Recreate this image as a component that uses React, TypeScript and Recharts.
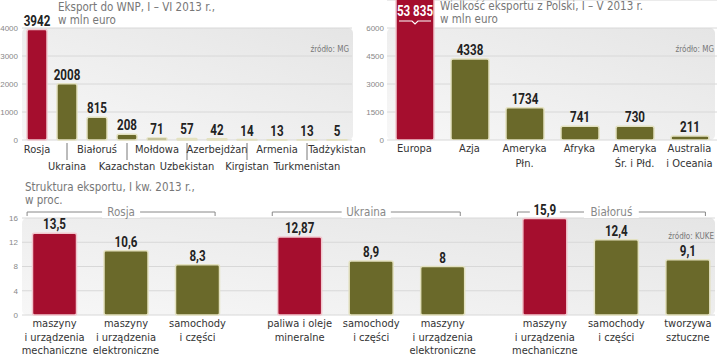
import React from "react";
import { Bar, BarChart, CartesianGrid, Cell, LabelList, XAxis, YAxis } from "recharts";

// Eksport do WNP, I-VI 2013, mln euro
const cisCountries = ["Rosja", "Ukraina", "Białoruś", "Kazachstan", "Mołdowa", "Uzbekistan", "Azerbejdżan", "Kirgistan", "Armenia", "Turkmenistan", "Tadżykistan"];
const cisExport = [3942, 2008, 815, 208, 71, 57, 42, 14, 13, 13, 5];
const cisTicks = [0, 1000, 2000, 3000, 4000];

// Wielkość eksportu z Polski, I-V 2013, mln euro
const regions = ["Europa", "Azja", "Ameryka\nPłn.", "Afryka", "Ameryka\nŚr. i Płd.", "Australia\ni Oceania"];
const regionExport = [53835, 4338, 1734, 741, 730, 211];
const regionTicks = [0, 1500, 3000, 4500, 6000];

// Struktura eksportu, I kw. 2013, proc.
const partners = ["Rosja", "Ukraina", "Białoruś"];
const firstGoods = ["maszyny\ni urządzenia\nmechaniczne", "paliwa i oleje\nmineralne", "maszyny\ni urządzenia\nmechaniczne"];
const firstShare = [13.5, 12.87, 15.9];
const secondGoods = ["maszyny\ni urządzenia\nelektroniczne", "samochody\ni części", "samochody\ni części"];
const secondShare = [10.6, 8.9, 12.4];
const thirdGoods = ["samochody\ni części", "maszyny\ni urządzenia\nelektroniczne", "tworzywa\nsztuczne"];
const thirdShare = [8.3, 8, 9.1];
const shareTicks = [0, 4, 8, 12, 16];

const cisData = cisCountries.map((name, i) => ({ name, value: cisExport[i] }));
const regionData = regions.map((name, i) => ({ name, value: regionExport[i] }));
const shareData = partners.map((group, i) => ({
  group,
  a: firstShare[i],
  aName: firstGoods[i],
  b: secondShare[i],
  bName: secondGoods[i],
  c: thirdShare[i],
  cName: thirdGoods[i],
}));

const RED = "#a50e2e";
const OLIVE = "#6a692a";
const RED_EDGE = "#f1c7ce";
const OLIVE_EDGE = "#e3e1c0";
const NARROW = "'DejaVu Sans Condensed', 'Liberation Sans Narrow', sans-serif";
const BOLD = "Roboto, 'Liberation Sans', sans-serif";
const BG = "linear-gradient(to top right, #f7f7f7, #e5e5e5)";
const GRID = "#d8d8d8";
const LABEL_SIZE = 11;

const REGION_MAX = 7500;
const SHARE_TOP = 18;

function fmt(v: number) {
  if (v >= 10000) return String(v).replace(/\B(?=(\d{3})+(?!\d))/g, " ");
  return String(v).replace(".", ",");
}

function box(p: any) {
  const vb = p.viewBox ?? p;
  return { x: Number(vb.x), y: Number(vb.y), width: Number(vb.width), height: Number(vb.height) };
}

// condensed bold number, squeezed horizontally
function Num({ x, y, children, fill = "#222" }: { x: number; y: number; children: any; fill?: string }) {
  return (
    <text transform={`translate(${x},${y}) scale(0.8,1)`} textAnchor="middle" fontFamily={BOLD} fontWeight={700} fontSize={14.5} fill={fill}>
      {children}
    </text>
  );
}

function ValueLabel(p: any) {
  const { x, y, width } = box(p);
  return (
    <Num x={x + width / 2} y={y - 4}>
      {fmt(p.value)}
    </Num>
  );
}

function RegionValueLabel(p: any) {
  const { x, y, width } = box(p);
  const cx = x + width / 2;
  if (p.value <= regionTicks[regionTicks.length - 1]) return <ValueLabel {...p} />;
  const top = Math.max(y, 0);
  return (
    <g>
      <Num x={cx} y={top + 16} fill="#fff">
        {fmt(p.value)}
      </Num>
      <polyline
        points={`${x + 3},${top + 21} ${cx - 3},${top + 21} ${cx},${top + 24} ${cx + 3},${top + 21} ${x + width - 3},${top + 21}`}
        fill="none"
        stroke="#fff"
        strokeWidth={1.2}
      />
    </g>
  );
}

function ShareValueLabel(p: any) {
  const { x, y, width } = box(p);
  const cx = x + width / 2;
  const base = y - 4;
  return (
    <g>
      {base - 11 < SHARE_TOP && <rect x={cx - 15} y={base - 12} width={30} height={14} fill="#fff" />}
      <Num x={cx} y={base}>
        {fmt(p.value)}
      </Num>
    </g>
  );
}

function GoodsLabel(p: any) {
  const { x, y, width, height } = box(p);
  const lines = String(p.value).split("\n");
  return (
    <text x={x + width / 2} y={y + height + 12} textAnchor="middle" fontFamily={NARROW} fontSize={LABEL_SIZE} fill="#333">
      {lines.map((t, i) => (
        <tspan key={i} x={x + width / 2} dy={i === 0 ? 0 : 13.5}>
          {t}
        </tspan>
      ))}
    </text>
  );
}

function CisTick(p: any) {
  const { x, y, payload, index } = p;
  const low = index % 2 === 1;
  return (
    <g>
      {low && <line x1={x} x2={x} y1={y + 3} y2={y + 20} stroke="#555" strokeWidth={0.8} />}
      <text x={x} y={y + (low ? 30 : 13)} textAnchor="middle" fontFamily={NARROW} fontSize={LABEL_SIZE} fill="#333">
        {payload.value}
      </text>
    </g>
  );
}

function RegionTick(p: any) {
  const { x, y, payload } = p;
  const lines = String(payload.value).split("\n");
  return (
    <text x={x} y={y + 12} textAnchor="middle" fontFamily={NARROW} fontSize={LABEL_SIZE} fill="#333">
      {lines.map((t, i) => (
        <tspan key={i} x={x} dy={i === 0 ? 0 : 14.5}>
          {t}
        </tspan>
      ))}
    </text>
  );
}

function GroupTick(p: any) {
  const { x, y, payload } = p;
  const cx = x - 5;
  const ly = y - 6;
  const half = 94;
  const w = String(payload.value).length * 5.6 + 10;
  return (
    <g>
      <polyline
        points={`${cx - half},${ly + 4} ${cx - half},${ly} ${cx + half},${ly} ${cx + half},${ly + 4}`}
        fill="none"
        stroke="#888"
        strokeWidth={1}
      />
      <rect x={cx - w / 2} y={ly - 8} width={w} height={14} fill="#fff" />
      <text x={cx} y={ly + 3.5} textAnchor="middle" fontFamily={NARROW} fontSize={11.5} fill="#888">
        {payload.value}
      </text>
    </g>
  );
}

const yTick = { fontSize: 8, fill: "#888", fontFamily: "'Liberation Sans', Arial, sans-serif" };

const titleStyle: React.CSSProperties = {
  position: "absolute",
  fontFamily: NARROW,
  fontSize: 11.5,
  lineHeight: "13px",
  color: "#777",
  whiteSpace: "nowrap",
};

const sourceStyle: React.CSSProperties = {
  position: "absolute",
  fontFamily: NARROW,
  fontSize: 8,
  color: "#777",
  whiteSpace: "nowrap",
  textAlign: "right",
};

export default function App() {
  return (
    <div style={{ position: "absolute", left: 0, top: 0, width: 720, height: 356, background: "#fff", overflow: "hidden" }}>
      <div style={{ position: "absolute", left: 22, top: 28, width: 331, height: 112, borderRadius: 5, background: BG }} />
      <div style={{ position: "absolute", left: 387, top: 28, width: 328, height: 112, borderRadius: 5, background: BG }} />
      <div style={{ position: "absolute", left: 22, top: 218, width: 693, height: 97, borderRadius: 5, background: BG }} />

      <div style={{ ...titleStyle, left: 58, top: 1 }}>
        Eksport do WNP, I – VI 2013 r.,
        <br />w mln euro
      </div>
      <div style={{ ...titleStyle, left: 440, top: 0 }}>
        Wielkość eksportu z Polski, I – V 2013 r.
        <br />w mln euro
      </div>
      <div style={{ ...titleStyle, left: 25, top: 181 }}>
        Struktura eksportu, I kw. 2013 r.,
        <br />w proc.
      </div>
      <div style={{ ...sourceStyle, right: 720 - 349, top: 45 }}>źródło: MG</div>
      <div style={{ ...sourceStyle, right: 720 - 714, top: 45 }}>źródło: MG</div>
      <div style={{ ...sourceStyle, right: 720 - 714, top: 232 }}>źródło: KUKE</div>

      <div style={{ position: "absolute", left: 0, top: 0 }}>
        <BarChart width={380} height={180} data={cisData} margin={{ top: 28, right: 28, left: 0, bottom: 0 }} barSize={20}>
          <CartesianGrid vertical={false} stroke={GRID} />
          <XAxis dataKey="name" interval={0} height={40} axisLine={false} tickLine={false} tickSize={0} tickMargin={0} tick={<CisTick />} />
          <YAxis width={22} domain={[0, 4000]} ticks={cisTicks} axisLine={false} tickLine={false} tickSize={0} tickMargin={4} tick={yTick} />
          <Bar dataKey="value" radius={2} strokeWidth={1.5} isAnimationActive={false}>
            {cisData.map((d, i) => (
              <Cell key={d.name} fill={i === 0 ? RED : OLIVE} stroke={i === 0 ? RED_EDGE : OLIVE_EDGE} />
            ))}
            <LabelList dataKey="value" content={ValueLabel} />
          </Bar>
        </BarChart>
      </div>

      <div style={{ position: "absolute", left: 360, top: 0 }}>
        <BarChart width={360} height={180} data={regionData} margin={{ top: 0, right: 3, left: 0, bottom: 0 }} barSize={38}>
          <CartesianGrid vertical={false} stroke={GRID} />
          <XAxis dataKey="name" interval={0} height={40} axisLine={false} tickLine={false} tickSize={0} tickMargin={0} tick={<RegionTick />} />
          <YAxis
            width={27}
            domain={[0, REGION_MAX]}
            allowDataOverflow
            ticks={regionTicks}
            axisLine={false}
            tickLine={false}
            tickSize={0}
            tickMargin={3}
            tick={yTick}
          />
          <Bar dataKey="value" radius={2} strokeWidth={1.5} isAnimationActive={false}>
            {regionData.map((d, i) => (
              <Cell key={d.name} fill={i === 0 ? RED : OLIVE} stroke={i === 0 ? RED_EDGE : OLIVE_EDGE} />
            ))}
            <LabelList dataKey="value" content={RegionValueLabel} />
          </Bar>
        </BarChart>
      </div>

      <div style={{ position: "absolute", left: 0, top: 200 }}>
        <BarChart
          width={720}
          height={156}
          data={shareData}
          margin={{ top: 8, right: 5, left: 0, bottom: 41 }}
          barSize={44}
          barGap={27.5}
        >
          <CartesianGrid vertical={false} stroke={GRID} />
          <XAxis dataKey="group" hide padding={{ left: -18.5, right: -24 }} />
          <XAxis
            xAxisId="top"
            orientation="top"
            dataKey="group"
            height={10}
            interval={0}
            axisLine={false}
            tickLine={false}
            tickSize={0}
            tickMargin={0}
            padding={{ left: -18.5, right: -24 }}
            tick={<GroupTick />}
          />
          <YAxis width={22} domain={[0, 16]} ticks={shareTicks} axisLine={false} tickLine={false} tickSize={0} tickMargin={4} tick={yTick} />
          <Bar dataKey="a" fill={RED} stroke={RED_EDGE} strokeWidth={1.5} radius={2} isAnimationActive={false}>
            <LabelList dataKey="a" content={ShareValueLabel} />
            <LabelList dataKey="aName" content={GoodsLabel} />
          </Bar>
          <Bar dataKey="b" fill={OLIVE} stroke={OLIVE_EDGE} strokeWidth={1.5} radius={2} isAnimationActive={false}>
            <LabelList dataKey="b" content={ShareValueLabel} />
            <LabelList dataKey="bName" content={GoodsLabel} />
          </Bar>
          <Bar dataKey="c" fill={OLIVE} stroke={OLIVE_EDGE} strokeWidth={1.5} radius={2} isAnimationActive={false}>
            <LabelList dataKey="c" content={ShareValueLabel} />
            <LabelList dataKey="cName" content={GoodsLabel} />
          </Bar>
        </BarChart>
      </div>
    </div>
  );
}
